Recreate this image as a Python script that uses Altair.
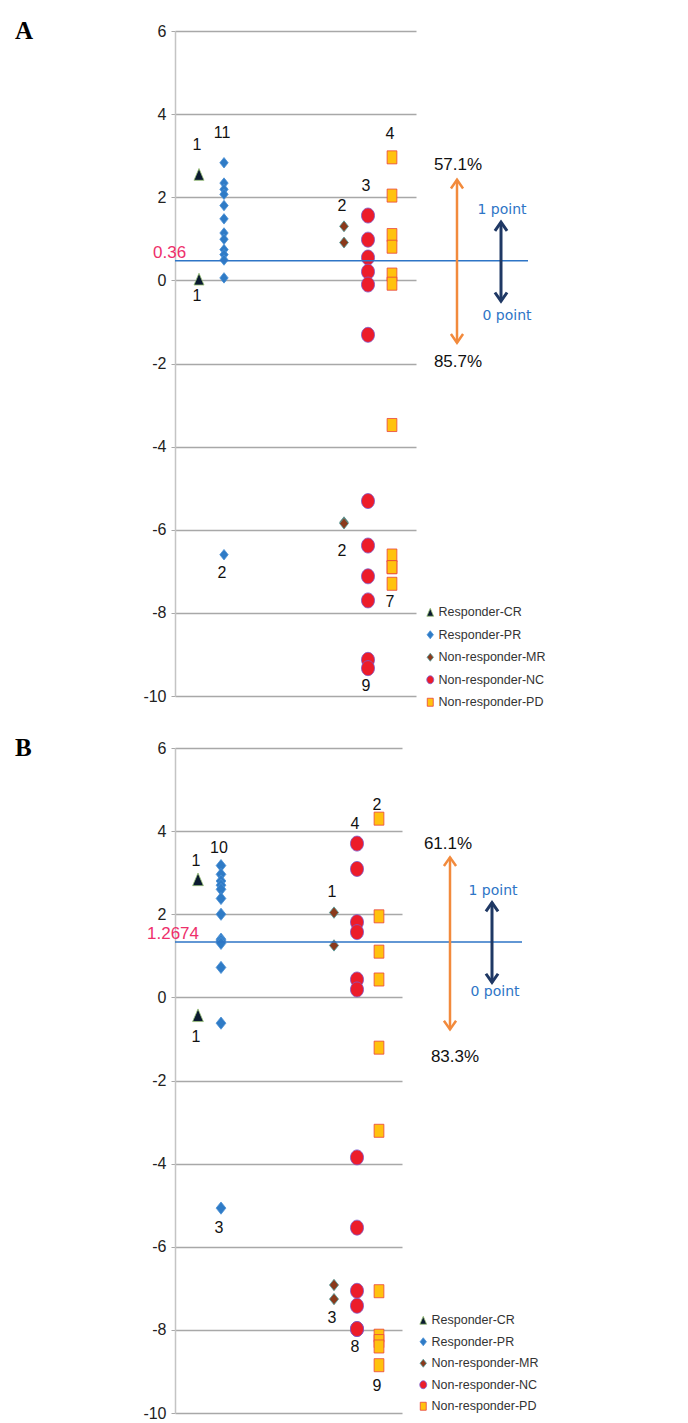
import altair as alt
import pandas as pd

CATS = ["Responder-CR", "Responder-PR", "Non-responder-MR", "Non-responder-NC", "Non-responder-PD"]

# ---------- Panel A data ----------
A_CR = [2.55, 0.03]
A_PR = [2.83, 2.34, 2.19, 2.07, 1.80, 1.48, 1.14, 0.99, 0.74, 0.62, 0.49, 0.06, -6.60]
A_MR = [1.30, 0.91, -5.82, -5.85]
A_NC = [1.56, 0.98, 0.55, 0.21, -0.10, -1.31, -5.31, -6.38, -7.12, -7.70, -9.13, -9.33]
A_PD = [2.96, 2.04, 1.09, 0.81, 0.14, -0.08, -3.48, -6.62, -6.90, -6.90, -7.30]
A_THRESHOLD_LABEL = "0.36"
A_COUNT_CAT = ["Responder-CR", "Responder-CR", "Responder-PR", "Responder-PR",
               "Non-responder-MR", "Non-responder-MR", "Non-responder-NC", "Non-responder-NC",
               "Non-responder-PD", "Non-responder-PD"]
A_COUNT_TXT = ["1", "1", "11", "2", "2", "2", "3", "9", "4", "7"]
A_COUNT_Y = [3.26, -0.38, 3.54, -7.03, 1.80, -6.52, 2.27, -9.76, 3.52, -7.73]
A_PCT = ["57.1%", "85.7%"]
A_POINTS = ["1 point", "0 point"]

# ---------- Panel B data ----------
B_CR = [2.84, -0.43]
B_PR = [3.17, 2.96, 2.80, 2.70, 2.60, 2.38, 2.00, 1.40, 1.36, 1.30, 0.72, -0.62, -5.07]
B_MR = [2.04, 1.25, -6.92, -7.26]
B_NC = [3.70, 3.09, 1.81, 1.57, 0.43, 0.19, -3.85, -5.54, -7.06, -7.42, -7.98, -7.98]
B_PD = [4.30, 1.95, 1.10, 0.43, -1.21, -3.21, -7.07, -8.14, -8.27, -8.40, -8.85]
B_THRESHOLD_LABEL = "1.2674"
B_COUNT_CAT = A_COUNT_CAT
B_COUNT_TXT = ["1", "1", "10", "3", "1", "3", "4", "8", "2", "9"]
B_COUNT_Y = [3.28, -0.95, 3.60, -5.54, 2.53, -7.72, 4.16, -8.40, 4.62, -9.34]
B_PCT = ["61.1%", "83.3%"]
B_POINTS = ["1 point", "0 point"]

# ---------- styles / layout ----------
SHAPES = {
    "Responder-CR": "M0,-1L0.85,1L-0.85,1Z",
    "Responder-PR": "M0,-1L0.8,0L0,1L-0.8,0Z",
    "Non-responder-MR": "M0,-1L0.8,0L0,1L-0.8,0Z",
    "Non-responder-NC": "M-0.87,0A0.87,1 0 1,1 0.87,0A0.87,1 0 1,1 -0.87,0Z",
    "Non-responder-PD": "M-0.75,-1L0.75,-1L0.75,1L-0.75,1Z",
}
FILLS = {"Responder-CR": "#0b1a30", "Responder-PR": "#2f7bc6", "Non-responder-MR": "#8a3a1c",
         "Non-responder-NC": "#ec1c2a", "Non-responder-PD": "#ffc20e"}
STROKES = {"Responder-CR": "#9cc47a", "Responder-PR": "#4a90d6", "Non-responder-MR": "#4f9a9a",
           "Non-responder-NC": "#7a5ad0", "Non-responder-PD": "#e8433f"}
SIZES_A = {"Responder-CR": 140, "Responder-PR": 110, "Non-responder-MR": 120,
           "Non-responder-NC": 225, "Non-responder-PD": 170}
SIZES_B = {"Responder-CR": 160, "Responder-PR": 150, "Non-responder-MR": 130,
           "Non-responder-NC": 225, "Non-responder-PD": 170}

PANEL_A = dict(letter="A", width=241, thr=0.47, thr_end=353, thr_lx=-22,
               colx={"Responder-CR": 24, "Responder-PR": 49, "Non-responder-MR": 169,
                     "Non-responder-NC": 193, "Non-responder-PD": 217},
               orange_x=282, orange=(2.42, -1.50), navy_x=326, navy=(1.40, -0.50),
               pct_xy=[(283, 2.78), (283, -1.97)], pts_xy=[(327, 1.69), (332, -0.86)],
               legend_x=249, legend_y=575, legend_pad=9.5, sizes=SIZES_A)
PANEL_B = dict(letter="B", width=227, thr=1.33, thr_end=347, thr_lx=-28,
               colx={"Responder-CR": 23, "Responder-PR": 46, "Non-responder-MR": 159,
                     "Non-responder-NC": 182, "Non-responder-PD": 204},
               orange_x=275, orange=(3.37, -0.77), navy_x=317, navy=(2.28, 0.36),
               pct_xy=[(273, 3.68), (280, -1.44)], pts_xy=[(318, 2.55), (320, 0.14)],
               legend_x=242, legend_y=566, legend_pad=8.5, sizes=SIZES_B)

SANS = "Liberation Sans"
NARROW = "Liberation Sans Narrow, Arial Narrow, Liberation Sans, sans-serif"
ORANGE = "#f28a3c"
NAVY = "#1f3864"
BLUE = "#2e75c6"


def build_panel(cfg, series, count_cat, count_txt, count_y, thr_label, pct, pts_lbl):
    rows = []
    for cat, vals in zip(CATS, series):
        for v in vals:
            rows.append({"cat": cat, "x": cfg["colx"][cat], "v": v, "sz": cfg["sizes"][cat]})
    df = pd.DataFrame(rows)

    xs = alt.Scale(domain=[0, cfg["width"]], nice=False, zero=False)
    ys = alt.Scale(domain=[-10, 6], nice=False, zero=False)
    yaxis = alt.Axis(values=[6, 4, 2, 0, -2, -4, -6, -8, -10], grid=True, gridColor="#a8a8a8",
                     gridWidth=1.3, domainColor="#c4c4c4", domainWidth=1.5, tickColor="#a8a8a8",
                     tickSize=4, labelFontSize=16, labelFont=SANS, labelColor="#222",
                     labelPadding=5, title=None, labelOverlap=False,
                     labelExpr="'' + datum.value")

    def X(f):
        return alt.X(f, type="quantitative", scale=xs, axis=None)

    def Y(f):
        return alt.Y(f, type="quantitative", scale=ys, axis=yaxis)

    leg = alt.Legend(title=None, orient="none", legendX=cfg["legend_x"], legendY=cfg["legend_y"],
                     labelFont=NARROW, labelFontSize=12.5, labelColor="#333", symbolSize=64,
                     rowPadding=cfg["legend_pad"], symbolStrokeWidth=0.8, labelOffset=2, padding=0)

    points = alt.Chart(df).mark_point(filled=True, opacity=1, strokeWidth=0.8).encode(
        x=X("x"), y=Y("v"),
        shape=alt.Shape("cat:N", scale=alt.Scale(domain=CATS, range=[SHAPES[c] for c in CATS]), legend=leg),
        fill=alt.Fill("cat:N", scale=alt.Scale(domain=CATS, range=[FILLS[c] for c in CATS]), legend=leg),
        stroke=alt.Stroke("cat:N", scale=alt.Scale(domain=CATS, range=[STROKES[c] for c in CATS]), legend=leg),
        size=alt.Size("sz:Q", scale=None),
    )

    thr_df = pd.DataFrame({"x0": [0], "x1": [cfg["thr_end"]], "v": [cfg["thr"]],
                           "lx": [cfg["thr_lx"]], "t": [thr_label]})
    thr_rule = alt.Chart(thr_df).mark_rule(color=BLUE, strokeWidth=1.5).encode(
        x=X("x0"), x2="x1", y=Y("v"))
    thr_text = alt.Chart(thr_df).mark_text(align="left", baseline="bottom", dy=1, color="#ee2f6b",
                                           fontSize=17, font=SANS).encode(
        x=X("lx"), y=Y("v"), text="t:N")

    cnt_df = pd.DataFrame({"x": [cfg["colx"][c] for c in count_cat], "v": count_y, "t": count_txt})
    counts = alt.Chart(cnt_df).mark_text(fontSize=16, font=SANS, color="#111", baseline="middle",
                                         dx=-2).encode(x=X("x"), y=Y("v"), text="t:N")

    arr_df = pd.DataFrame({
        "x": [cfg["orange_x"], cfg["navy_x"]],
        "top": [cfg["orange"][0], cfg["navy"][0]],
        "bot": [cfg["orange"][1], cfg["navy"][1]],
        "col": [ORANGE, NAVY],
        "w": [2.5, 3.0],
    })
    shafts = alt.Chart(arr_df).mark_rule().encode(
        x=X("x"), y=Y("top"), y2="bot", color=alt.Color("col:N", scale=None),
        strokeWidth=alt.StrokeWidth("w:Q", scale=None))
    head_up = alt.Chart(arr_df).mark_point(filled=False, opacity=1, shape="M-0.7,1L0,0L0.7,1",
                                           size=300).encode(
        x=X("x"), y=Y("top"), color=alt.Color("col:N", scale=None),
        strokeWidth=alt.StrokeWidth("w:Q", scale=None))
    head_dn = alt.Chart(arr_df).mark_point(filled=False, opacity=1, shape="M-0.7,-1L0,0L0.7,-1",
                                           size=300).encode(
        x=X("x"), y=Y("bot"), color=alt.Color("col:N", scale=None),
        strokeWidth=alt.StrokeWidth("w:Q", scale=None))

    pct_df = pd.DataFrame({"x": [p[0] for p in cfg["pct_xy"]],
                           "v": [p[1] for p in cfg["pct_xy"]], "t": list(pct)})
    pct_text = alt.Chart(pct_df).mark_text(font=SANS, fontSize=17, color="#111",
                                           baseline="middle").encode(
        x=X("x"), y=Y("v"), text="t:N")
    pts_df = pd.DataFrame({"x": [p[0] for p in cfg["pts_xy"]],
                           "v": [p[1] for p in cfg["pts_xy"]], "t": list(pts_lbl)})
    pts_text = alt.Chart(pts_df).mark_text(font="DejaVu Sans", fontSize=14, color=BLUE,
                                           baseline="middle").encode(
        x=X("x"), y=Y("v"), text="t:N")

    letter_df = pd.DataFrame({"t": [cfg["letter"]]})
    letter = alt.Chart(letter_df).mark_text(font="Liberation Serif", fontWeight="bold", fontSize=25,
                                            align="left", baseline="top", color="#000").encode(
        x=alt.value(-160), y=alt.value(-12), text="t:N")

    return alt.layer(points, thr_rule, thr_text, counts, shafts, head_up, head_dn,
                     pct_text, pts_text, letter).properties(width=cfg["width"], height=665)


panel_a = build_panel(PANEL_A, [A_CR, A_PR, A_MR, A_NC, A_PD], A_COUNT_CAT, A_COUNT_TXT, A_COUNT_Y,
                      A_THRESHOLD_LABEL, A_PCT, A_POINTS)
panel_b = build_panel(PANEL_B, [B_CR, B_PR, B_MR, B_NC, B_PD], B_COUNT_CAT, B_COUNT_TXT, B_COUNT_Y,
                      B_THRESHOLD_LABEL, B_PCT, B_POINTS)

chart = alt.vconcat(panel_a, panel_b, spacing=52, bounds="flush").resolve_scale(
    x="independent", y="independent", fill="independent", stroke="independent", shape="independent"
).resolve_legend(fill="independent", stroke="independent", shape="independent").properties(
    padding={"left": 7, "top": 11, "right": 5, "bottom": 5}
).configure_view(stroke=None)

chart.save("out.html", embed_options={"renderer": "svg", "actions": False})
